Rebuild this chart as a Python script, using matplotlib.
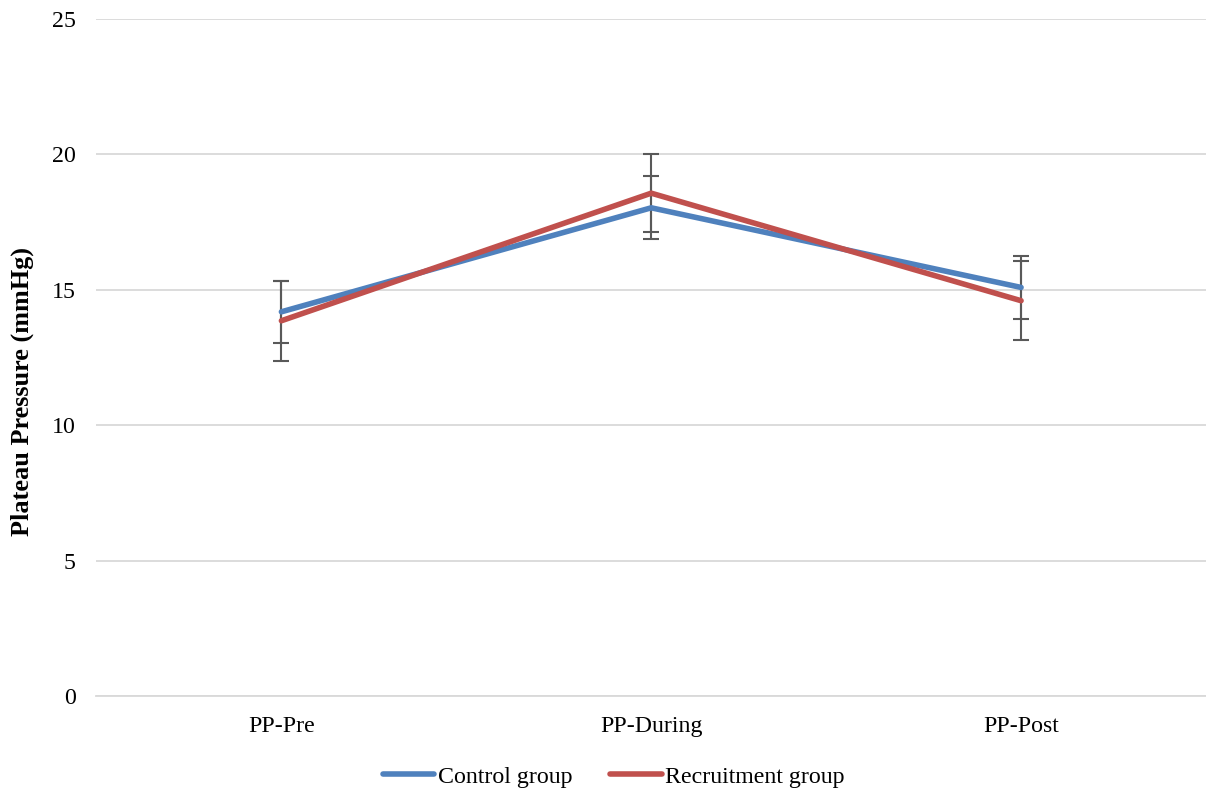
import numpy as np
import matplotlib.pyplot as plt

plt.rcParams['font.family'] = ['Liberation Serif', 'DejaVu Serif']

# Plateau pressure per phase (mean and SD)
phases = ["PP-Pre", "PP-During", "PP-Post"]
control_mean = [14.19, 18.03, 15.09]
control_sd = [1.15, 1.16, 1.16]
recruit_mean = [13.86, 18.57, 14.60]
recruit_sd = [1.48, 1.44, 1.45]

blue = "#4F81BD"
red = "#C0504D"
fs = 17.2


def main():
    fig = plt.figure(figsize=(12.06, 7.92), dpi=100)
    ax = fig.add_axes([0.080, 0.121, 0.920, 0.855])
    x = np.arange(len(phases))

    # error bars sit under the lines
    for mean, sd in [(control_mean, control_sd), (recruit_mean, recruit_sd)]:
        ax.errorbar(x, mean, yerr=sd, fmt="none", ecolor="#595959",
                    elinewidth=1.5, capsize=6, capthick=1.5, zorder=2)

    ax.plot(x, control_mean, color=blue, lw=4.0, solid_capstyle="round",
            label="Control group", zorder=3)
    ax.plot(x, recruit_mean, color=red, lw=4.0, solid_capstyle="round",
            label="Recruitment group", zorder=4)

    ax.set_xlim(-0.5, 2.5)
    ax.set_ylim(0, 25)
    ax.set_yticks(range(0, 26, 5))
    ax.set_xticks(x)
    ax.set_xticklabels(phases)
    ax.tick_params(axis="both", length=0, labelsize=fs)
    ax.tick_params(axis="y", pad=15)
    ax.tick_params(axis="x", pad=14)
    ax.grid(axis="y", color="#D9D9D9", lw=1.3)
    ax.set_axisbelow(True)
    for s in ["top", "right", "left"]:
        ax.spines[s].set_visible(False)
    ax.spines["bottom"].set_color("#D9D9D9")
    ax.spines["bottom"].set_linewidth(1.3)

    ax.set_ylabel("Plateau Pressure (mmHg)", fontsize=18.9, fontweight="bold")
    ax.yaxis.set_label_coords(-0.056, 0.45)

    fig.legend(loc="center", bbox_to_anchor=(0.509, 0.019), ncol=2, frameon=False,
               fontsize=fs, handlelength=2.15, handletextpad=0.15,
               columnspacing=1.6)

    fig.savefig("out.png", dpi=100)


if __name__ == "__main__":
    main()
